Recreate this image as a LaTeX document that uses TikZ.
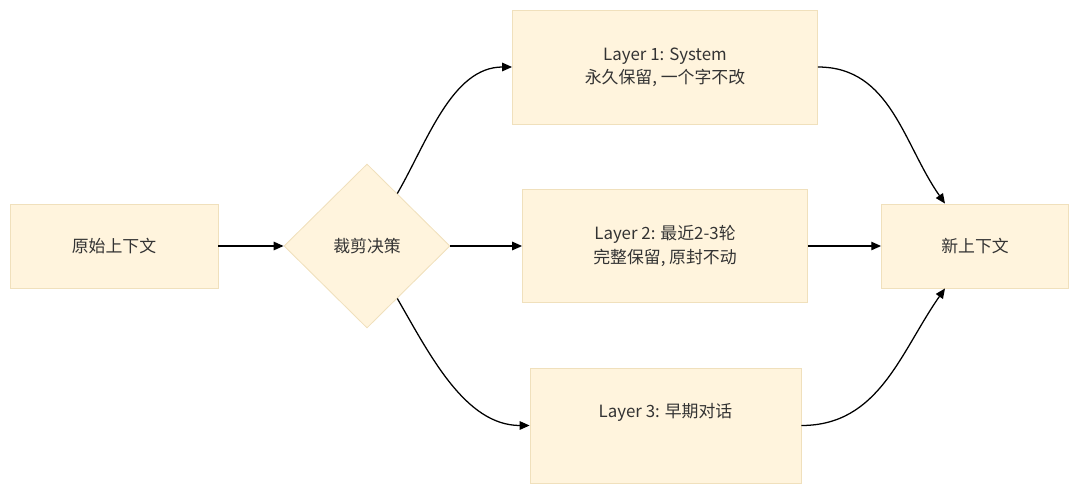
\documentclass[tikz,border=0pt]{standalone}
\usepackage{fontspec}
\setmainfont{Noto Sans CJK SC}
\usetikzlibrary{shapes.geometric,arrows.meta}
\definecolor{boxfill}{HTML}{FFF4DD}
\definecolor{boxline}{HTML}{F0E0BC}
\definecolor{ink}{HTML}{333333}
\tikzset{
  box/.style={draw=boxline,fill=boxfill,line width=0.6pt,text=ink,align=center,
    font=\fontsize{12}{16.5}\selectfont},
  choice/.style={box,diamond,inner sep=0pt,minimum width=4.15cm,minimum height=4.1cm},
  flow/.style={-{Triangle[length=7pt,width=6pt]},line width=0.9pt,black}
}
\begin{document}
\begin{tikzpicture}
    \useasboundingbox (0,0) rectangle (27,-12.325);
    \node[box,minimum width=5.2cm,minimum height=2.1cm] (orig) at (2.85,-6.15) {原始上下文};
    \node[choice] (cut) at (9.175,-6.15) {裁剪决策};
    \node[box,minimum width=7.625cm,minimum height=2.85cm] (L1) at (16.625,-1.675) {Layer 1: System\\永久保留, 一个字不改};
    \node[box,minimum width=7.125cm,minimum height=2.825cm] (L2) at (16.625,-6.15) {Layer 2: 最近2-3轮\\完整保留, 原封不动};
    \node[box,minimum width=6.775cm,minimum height=2.875cm] (L3) at (16.6375,-10.6375) {Layer 3: 早期对话\\\strut};
    \node[box,minimum width=4.675cm,minimum height=2.1cm] (new) at (24.375,-6.15) {新上下文};
    \path (orig) edge[flow] (cut)
    (cut) edge[flow,out=60,in=180,looseness=0.9] (L1)
    edge[flow] (L2)
    edge[flow,out=-60,in=180,looseness=0.9] (L3)
    (L1) edge[flow,out=0,in=125,looseness=1] ([xshift=-0.75cm]new.north)
    (L2) edge[flow] (new)
    (L3) edge[flow,out=0,in=-125,looseness=1] ([xshift=-0.75cm]new.south);
\end{tikzpicture}
\end{document}
